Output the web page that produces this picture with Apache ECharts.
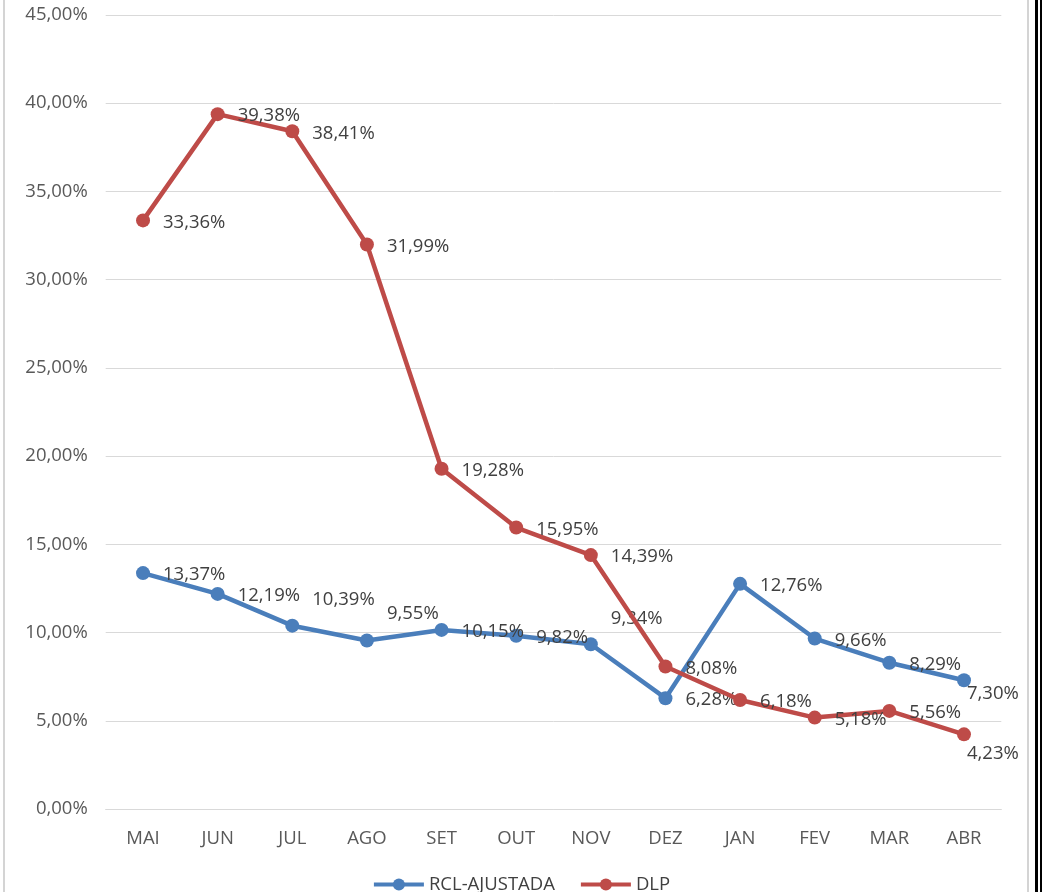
<!DOCTYPE html>
<html>
<head>
<meta charset="utf-8">
<script src="https://cdn.jsdelivr.net/npm/echarts@6/dist/echarts.min.js"></script>
<style>
html,body{margin:0;padding:0;background:#fff;}
#chart{width:1042px;height:892px;}
</style>
</head>
<body>
<div id="chart"></div>
<script>
const categories = ['MAI','JUN','JUL','AGO','SET','OUT','NOV','DEZ','JAN','FEV','MAR','ABR'];
const rclAjustada = [13.37, 12.19, 10.39, 9.55, 10.15, 9.82, 9.34, 6.28, 12.76, 9.66, 8.29, 7.30];
const dlp = [33.36, 39.38, 38.41, 31.99, 19.28, 15.95, 14.39, 8.08, 6.18, 5.18, 5.56, 4.23];
const seriesNames = ['RCL-AJUSTADA', 'DLP'];

const fmt = v => v.toFixed(2).replace('.', ',') + '%';
const FONT = 'Open Sans';
const FS = 18.5;

// label offsets (styling only)
const rclOffsets = {2: [0, -26], 3: [0, -27], 6: [0, -25], 11: [-17, 14]};
const dlpOffsets = {11: [-17, 19]};

function buildData(values, offsets) {
  return values.map((v, i) => {
    const item = {value: v};
    if (offsets[i]) item.label = {offset: offsets[i]};
    return item;
  });
}

const labelStyle = {
  show: true,
  position: 'right',
  distance: 13,
  color: '#404040',
  fontFamily: FONT,
  fontSize: FS,
  offset: [0, 2],
  formatter: p => fmt(p.value)
};

const chart = echarts.init(document.getElementById('chart'), null, {renderer: 'canvas'});
chart.setOption({
  animation: false,
  backgroundColor: '#fff',
  textStyle: {fontFamily: FONT},
  grid: {left: 105.7, right: 40.7, top: 15, bottom: 83, containLabel: false},
  legend: {
    data: seriesNames,
    top: 870,
    left: 'center',
    itemWidth: 50,
    itemHeight: 15,
    itemGap: 24,
    lineStyle: {width: 4},
    textStyle: {color: '#404040', fontSize: FS, fontFamily: FONT}
  },
  xAxis: {
    type: 'category',
    data: categories,
    boundaryGap: true,
    axisLine: {lineStyle: {color: '#d9d9d9', width: 1}},
    axisTick: {show: false},
    axisLabel: {color: '#595959', fontSize: FS, fontFamily: FONT, margin: 20}
  },
  yAxis: {
    type: 'value',
    min: 0,
    max: 45,
    interval: 5,
    axisLine: {show: false},
    axisTick: {show: false},
    axisLabel: {color: '#595959', fontSize: FS, fontFamily: FONT, margin: 18, formatter: v => fmt(v)},
    splitLine: {lineStyle: {color: '#d9d9d9', width: 1}}
  },
  series: [
    {
      name: seriesNames[0],
      type: 'line',
      data: buildData(rclAjustada, rclOffsets),
      color: '#4a7ebb',
      symbol: 'circle',
      symbolSize: 14,
      lineStyle: {width: 4.5, color: '#4a7ebb'},
      itemStyle: {color: '#4a7ebb'},
      label: labelStyle,
      z: 2
    },
    {
      name: seriesNames[1],
      type: 'line',
      data: buildData(dlp, dlpOffsets),
      color: '#be4b48',
      symbol: 'circle',
      symbolSize: 14,
      lineStyle: {width: 4.5, color: '#be4b48'},
      itemStyle: {color: '#be4b48'},
      label: labelStyle,
      z: 3
    }
  ],
  graphic: [
    {type: 'rect', left: 3, top: 0, shape: {width: 2, height: 892}, style: {fill: '#d4d4d4'}},
    {type: 'rect', left: 1027, top: 0, shape: {width: 2, height: 892}, style: {fill: '#d4d4d4'}},
    {type: 'rect', left: 1035, top: 0, shape: {width: 3, height: 892}, style: {fill: '#000'}},
    {type: 'rect', left: 1040, top: 0, shape: {width: 2, height: 892}, style: {fill: '#000'}}
  ]
});
</script>
</body>
</html>
